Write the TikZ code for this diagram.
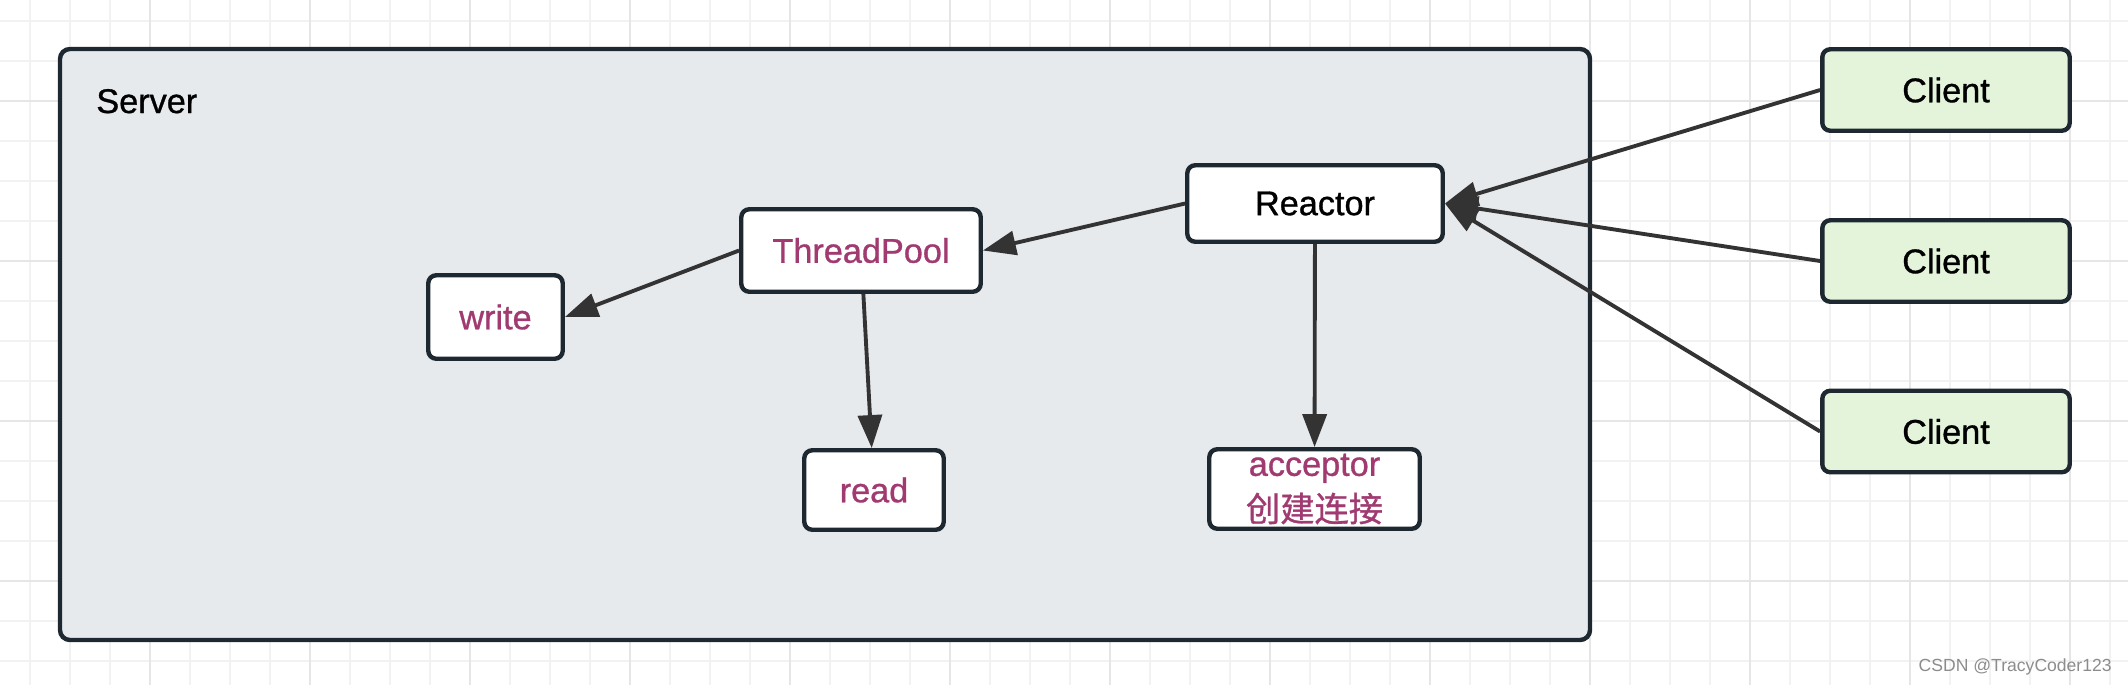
\documentclass[tikz,border=0pt]{standalone}
\usepackage{fontspec}
\setmainfont{Liberation Sans}[FakeBold=0.9]
\newfontfamily\cjkfont{Noto Sans CJK SC}[FakeBold=0.9]
\newfontfamily\markfont{Liberation Sans}
\usetikzlibrary{arrows.meta}

\definecolor{gridminor}{HTML}{F2F2F2}
\definecolor{gridmajor}{HTML}{E6E6E6}
\definecolor{serverfill}{HTML}{E6EAED}
\definecolor{boxline}{HTML}{1E2830}
\definecolor{clientfill}{HTML}{E3F4DA}
\definecolor{handlertext}{HTML}{A03A70}
\definecolor{arrowgray}{HTML}{333333}

\begin{document}
\begin{tikzpicture}[
    x=0.02cm, y=-0.02cm,
    every node/.style={font=\fontsize{19.5}{24}\selectfont},
    box/.style={draw=boxline, line width=2.5pt, rounded corners=0.16cm,
        fill=white, inner sep=2pt, align=center},
    client/.style={box, fill=clientfill, minimum width=4.95cm, minimum height=1.63cm},
    handler/.style={text=handlertext},
    link/.style={draw=arrowgray, line width=2.2pt, -{Triangle[length=0.66cm,width=0.48cm]}}
    ]
    \useasboundingbox (0,0) rectangle (2128,684);
    \clip (0,0) rectangle (2128,684);
    \fill[white] (0,0) rectangle (2128,684);

    % background grid
    \begin{scope}[shift={(30,661)}, x=1cm, y=1cm]
        \draw[gridminor, line width=1.1pt, step=0.8] (-0.8,-0.8) grid (42.4,14);
        \begin{scope}[shift={(2.4,1.6)}]
            \draw[gridmajor, line width=1.1pt, step=3.2] (-3.2,-3.2) grid (40,12.8);
        \end{scope}
    \end{scope}

    % Server
    \draw[draw=boxline, fill=serverfill, line width=2.5pt, rounded corners=0.2cm]
        (60,49) rectangle (1590,640);
    \node[anchor=base west, inner sep=0] (server) at (96,113) {Server};

    \node[box, minimum width=5.11cm, minimum height=1.53cm] (reactor) at (1315,203.5) {Reactor};
    \node[box, handler, minimum width=4.79cm, minimum height=1.65cm] (pool) at (861,250.5) {ThreadPool};
    \node[box, handler, minimum width=2.69cm, minimum height=1.67cm] (write) at (495.5,317) {write};
    \node[box, handler, minimum width=2.79cm, minimum height=1.59cm] (read) at (874,490) {read};
    \node[box, handler, minimum width=4.21cm, minimum height=1.59cm,
        font=\fontsize{19.5}{26}\selectfont] (acceptor) at (1314.5,489)
        {acceptor\\{\cjkfont 创建连接}};

    % Clients
    \node[client] (client1) at (1946,90) {Client};
    \node[client] (client2) at (1946,261) {Client};
    \node[client] (client3) at (1946,431.5) {Client};

    \draw[link] (client1.west) -- (reactor.east);
    \draw[link] (client2.west) -- (reactor.east);
    \draw[link] (client3.west) -- (reactor.east);
    \draw[link] (reactor.west) -- (pool.east);
    \draw[link] (pool.west) -- (write.east);
    \draw[link] (pool) -- (read);
    \draw[link] (reactor) -- (acceptor);

    \node[anchor=base east, inner sep=0, text=black!45, font=\markfont\fontsize{10}{12}\selectfont]
        (mark) at (2112,671) {CSDN @TracyCoder123};
\end{tikzpicture}
\end{document}
